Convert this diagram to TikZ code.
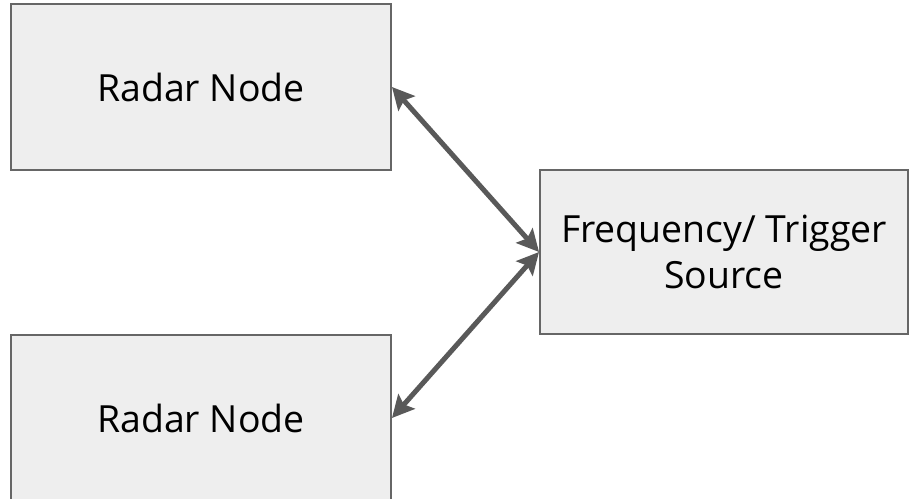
\documentclass[tikz,border=0pt]{standalone}
\usepackage{fontspec}
\setmainfont{Open Sans}
\usetikzlibrary{arrows.meta}
\definecolor{boxfill}{HTML}{EEEEEE}
\definecolor{boxline}{HTML}{666666}
\definecolor{linkgray}{HTML}{595959}
\tikzset{
  blockbox/.style={draw=boxline,line width=0.04cm,fill=boxfill,align=center,
    font=\fontsize{21.3}{26}\selectfont,inner sep=0pt},
  linkarrow/.style={draw=linkgray,line width=0.1cm,
    {Stealth[length=0.44cm,width=0.44cm,inset=0.08cm]}-{Stealth[length=0.44cm,width=0.44cm,inset=0.08cm]}}
}
\begin{document}
\begin{tikzpicture}[x=0.02cm,y=-0.02cm]
  \useasboundingbox (0,0) rectangle (909,499);
  \clip (0,0) rectangle (909,499);
  \node[blockbox,minimum width=7.6cm,minimum height=3.32cm] (radartop) at (201,87) {Radar Node};
  \node[blockbox,minimum width=7.6cm,minimum height=3.32cm] (radarbot) at (201,418) {Radar Node};
  \node[blockbox,minimum width=7.36cm,minimum height=3.28cm] (source) at (724,252) {Frequency/ Trigger\\Source};
  \draw[linkarrow] (radartop.east) -- (source.west);
  \draw[linkarrow] (radarbot.east) -- (source.west);
\end{tikzpicture}
\end{document}
